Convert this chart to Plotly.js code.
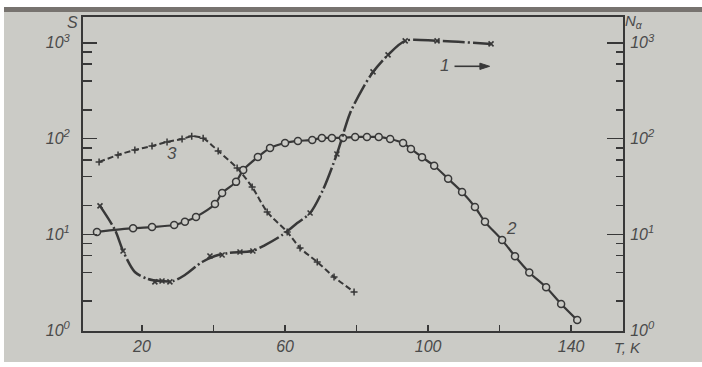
<!DOCTYPE html>
<html>
<head>
<meta charset="utf-8">
<script src="https://cdn.plot.ly/plotly-3.0.1.min.js"></script>
<style>
  html, body { margin: 0; padding: 0; background: #ffffff; }
  #paper { position: absolute; left: 4px; top: 7px; width: 698px; height: 355px; background: #cbcbc6; }
  #band { position: absolute; left: 4px; top: 7px; width: 698px; height: 5px; background: #77736f; }
  #chart { position: absolute; left: 0; top: 0; width: 702px; height: 367px; }
</style>
</head>
<body>
<div id="paper"></div>
<div id="band"></div>
<div id="chart"></div>
<script>
// Curve 1: N_alpha (right axis), line path
const c1LineT = [8.25, 12.45, 14.7, 18.0, 21.7, 25.0, 28.7, 32.0, 36.8, 40.4, 44.1, 50.8, 54.4, 59.2, 63.4, 67.0, 70.6, 74.5, 78.2, 81.8, 84.6, 88.8, 93.6, 102.5, 117.6];
const c1LineN = [19.8, 11.1, 6.7, 4.04, 3.41, 3.25, 3.25, 3.76, 5.14, 5.93, 6.38, 6.70, 7.73, 9.84, 13.1, 16.7, 29.1, 69.2, 185, 339, 497, 749, 1050, 1050, 975];
// Curve 1 measured points (x markers)
const c1PtsT = [8.25, 14.7, 23.6, 25.6, 27.8, 39.0, 42.4, 47.4, 51.0, 67.0, 74.5, 84.6, 88.8, 93.6, 102.5, 117.6];
const c1PtsN = [19.8, 6.7, 3.18, 3.25, 3.18, 5.94, 6.08, 6.54, 6.7, 16.7, 69, 497, 749, 1048, 1048, 975];

// Curve 2: S (left axis), open circles
const c2T = [7.4, 17.5, 22.8, 29.0, 32.0, 35.1, 40.4, 42.4, 46.3, 48.3, 52.4, 55.8, 60.0, 63.6, 67.6, 70.3, 73.1, 76.2, 79.6, 82.9, 86.2, 89.4, 93.0, 95.2, 98.3, 101.7, 105.6, 109.5, 113.1, 115.9, 120.7, 124.3, 128.3, 133.0, 137.2, 141.7];
const c2S = [10.6, 11.6, 11.9, 12.5, 13.5, 15.2, 20.7, 27.0, 35.3, 47.0, 64.3, 79.8, 90, 94.5, 96.8, 101.6, 101.6, 101.6, 104, 104, 104, 99, 90, 78, 64, 52, 38, 27.7, 19.3, 13.5, 8.7, 5.9, 4.0, 2.8, 1.87, 1.27];

// Curve 3: S (left axis), small crosses
const c3T = [8.0, 13.3, 18.0, 22.8, 27.0, 31.2, 33.9, 37.1, 41.3, 46.6, 50.8, 55.0, 60.6, 64.2, 69.0, 73.7, 79.3];
const c3S = [57.0, 67.5, 76.1, 83.8, 92.3, 99, 106, 101, 74.3, 49.2, 31.2, 17.1, 10.6, 7.2, 5.14, 3.58, 2.5];

const xTickVals = [20, 60, 100, 140];
const xTickText = ['20', '60', '100', '140'];
const xMinorVals = [40, 80, 120];
const yTickVals = [1, 10, 100, 1000];
const yTickText = ['10<sup>0</sup>', '10<sup>1</sup>', '10<sup>2</sup>', '10<sup>3</sup>'];
const yMinorVals = [2, 4, 6, 8, 20, 40, 60, 80, 200, 400, 600, 800];

const ink = '#383838';
const txt = '#4a4a4a';
const fam = 'Liberation Sans, Arial, sans-serif';
const tickFont = { family: fam, size: 16, color: txt, style: 'italic' };

const traces = [
  { x: c2T, y: c2S, mode: 'lines', line: { color: ink, width: 2.2, shape: 'spline', smoothing: 0.8 }, hoverinfo: 'skip', showlegend: false },
  { x: c2T, y: c2S, mode: 'markers', marker: { symbol: 'circle', size: 7, color: '#cbcbc6', line: { color: ink, width: 1.5 } }, showlegend: false },
  { x: c3T, y: c3S, mode: 'lines+markers', line: { color: ink, width: 2, dash: '6px,3px', shape: 'spline', smoothing: 0.7 }, marker: { symbol: 'cross-thin', size: 5, line: { color: ink, width: 1.5 } }, showlegend: false },
  { x: c1LineT, y: c1LineN, yaxis: 'y2', mode: 'lines', line: { color: ink, width: 2.5, dash: '22px,3px,2px,3px', shape: 'spline', smoothing: 0.8 }, showlegend: false },
  { x: c1PtsT, y: c1PtsN, yaxis: 'y2', mode: 'markers', marker: { symbol: 'x-thin', size: 5, line: { color: ink, width: 1.6 } }, showlegend: false }
];

const yBase = {
  type: 'log', range: [-0.01, 3.27], tickmode: 'array', tickvals: yTickVals, ticktext: yTickText,
  ticks: 'inside', ticklen: 14, tickwidth: 1.6, tickcolor: ink, showline: true, linecolor: ink, linewidth: 2,
  showgrid: false, zeroline: false, tickfont: tickFont,
  minor: { tickmode: 'array', tickvals: yMinorVals, ticks: 'inside', ticklen: 9, tickwidth: 1.5, tickcolor: ink, showgrid: false }
};

function label(x, y, text, size) {
  return { xref: 'paper', yref: 'paper', x: x, y: y, xanchor: 'center', yanchor: 'middle', text: text, showarrow: false,
           font: { family: fam, size: size, color: txt, style: 'italic' } };
}

const layout = {
  width: 702, height: 367,
  margin: { l: 83, r: 79, t: 17, b: 36 },
  paper_bgcolor: 'rgba(0,0,0,0)', plot_bgcolor: 'rgba(0,0,0,0)',
  showlegend: false,
  xaxis: {
    range: [3.5, 154.5], tickmode: 'array', tickvals: xTickVals, ticktext: xTickText,
    ticks: 'inside', ticklen: 6, tickwidth: 1.6, tickcolor: ink, showline: true, linecolor: ink, linewidth: 2,
    mirror: true, showgrid: false, zeroline: false, tickfont: tickFont, ticklabelstandoff: 0,
    minor: { tickmode: 'array', tickvals: xMinorVals, ticks: 'inside', ticklen: 6, tickwidth: 1.6, tickcolor: ink, showgrid: false }
  },
  yaxis: Object.assign({}, yBase, { ticklabelstandoff: 8 }),
  yaxis2: Object.assign({}, yBase, { overlaying: 'y', side: 'right', ticklen: 16, ticklabelstandoff: 2,
    minor: { tickmode: 'array', tickvals: yMinorVals, ticks: 'inside', ticklen: 7, tickwidth: 1.5, tickcolor: ink, showgrid: false } }),
  shapes: [
    { type: 'line', xref: 'paper', yref: 'paper', x0: 0.688, y0: 0.843, x1: 0.742, y1: 0.843, line: { color: ink, width: 1.6 } },
    { type: 'path', xref: 'paper', yref: 'paper', path: 'M 0.735 0.853 L 0.753 0.843 L 0.735 0.833 Z', fillcolor: ink, line: { color: ink, width: 1 } }
  ],
  annotations: [
    label(-0.020, 0.981, 'S', 16),
    label(1.020, 0.985, 'N<sub>α</sub>', 15),
    label(1.009, -0.052, 'T, K', 15),
    label(0.165, 0.564, '3', 17),
    label(0.794, 0.325, '2', 17),
    label(0.670, 0.847, '1', 17)
  ]
};

Plotly.newPlot('chart', traces, layout, { staticPlot: true, displayModeBar: false });
</script>
</body>
</html>
